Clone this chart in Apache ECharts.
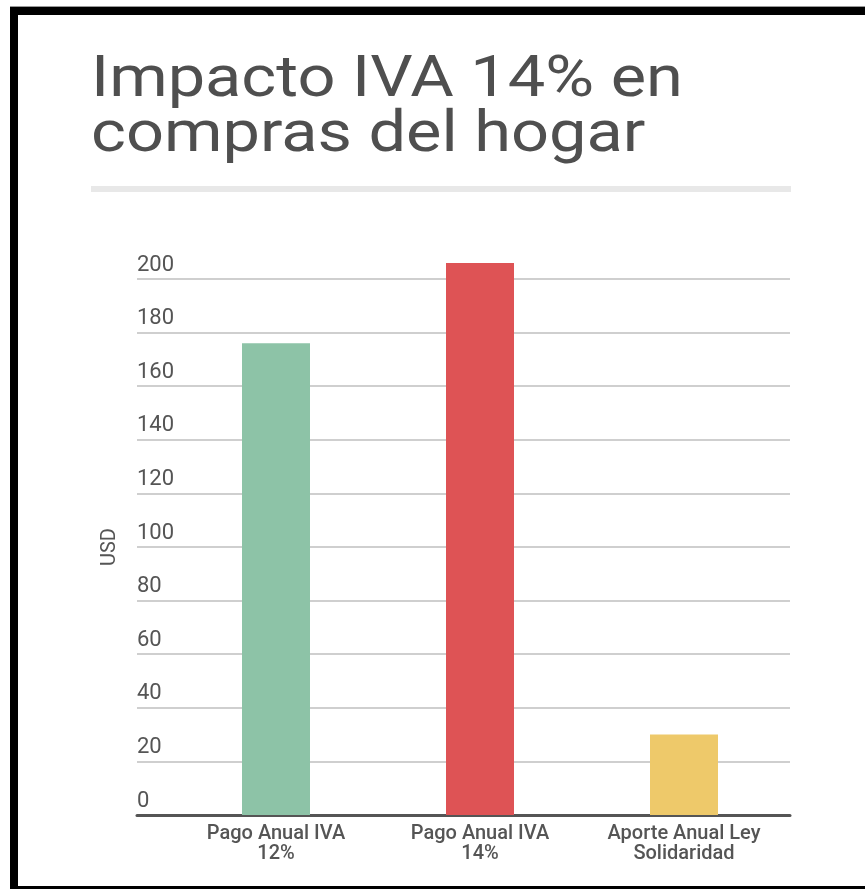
<!DOCTYPE html>
<html>
<head>
<meta charset="utf-8">
<script src="https://cdn.jsdelivr.net/npm/echarts@6/dist/echarts.min.js"></script>
<style>
html,body{margin:0;padding:0;background:#fff;}
#chart{width:865px;height:889px;}
</style>
</head>
<body>
<div id="chart"></div>
<script>
var titleText = 'Impacto IVA 14% en\ncompras del hogar';
var categories = ['Pago Anual IVA\n12%', 'Pago Anual IVA\n14%', 'Aporte Anual Ley\nSolidaridad'];
var values = [176, 206, 30];
var barColors = ['#8dc3a7', '#de5355', '#eec96a'];
var yMin = 0, yMax = 200, yStep = 20;
var yName = 'USD';

var chart = echarts.init(document.getElementById('chart'), null, {renderer: 'canvas'});
var font = 'Roboto';
var option = {
  animation: false,
  backgroundColor: '#fff',
  graphic: [
    {type: 'rect', shape: {x: 10, y: 6, width: 855, height: 1}, style: {fill: '#999'}},
    {type: 'rect', shape: {x: 10, y: 7, width: 855, height: 8}, style: {fill: '#000'}},
    {type: 'rect', shape: {x: 10, y: 7, width: 8, height: 882}, style: {fill: '#000'}},
    {type: 'rect', shape: {x: 10, y: 886, width: 855, height: 3}, style: {fill: '#000'}},
    {type: 'rect', shape: {x: 91, y: 186, width: 700, height: 6}, style: {fill: '#e8e8e8'}},
    {type: 'text', x: 91, y: 54, scaleX: 1.15,
      style: {text: titleText, font: '400 58px Roboto', fill: '#4f4f4f', lineHeight: 55}}
  ],
  grid: [
    {left: 137, right: 75, top: 279, bottom: 74},
    {left: 174, right: 79, top: 225.4, bottom: 74}
  ],
  xAxis: [
    {gridIndex: 0, type: 'value', min: 0, max: 1,
      axisLine: {show: true, lineStyle: {color: '#555', width: 3}},
      axisTick: {show: false}, axisLabel: {show: false}, splitLine: {show: false}},
    {gridIndex: 1, type: 'category', data: categories,
      axisLine: {show: false}, axisTick: {show: false},
      axisLabel: {interval: 0, hideOverlap: false, color: '#555', fontFamily: font, fontSize: 20,
        fontWeight: 500, lineHeight: 20, margin: 9}}
  ],
  yAxis: [
    {gridIndex: 0, type: 'value', min: yMin, max: yMax, interval: yStep,
      name: yName, nameLocation: 'middle', nameGap: 17,
      nameTextStyle: {color: '#555', fontFamily: font, fontSize: 20},
      axisLine: {show: false}, axisTick: {show: false},
      axisLabel: {inside: true, margin: 0, verticalAlign: 'bottom', padding: [0, 0, 3, 0],
        color: '#555', fontFamily: font, fontSize: 22},
      splitLine: {lineStyle: {color: '#cfcfcf', width: 2}}},
    {gridIndex: 1, type: 'value', min: yMin, max: yMax + yStep, interval: yStep, show: false,
      splitLine: {show: false}}
  ],
  series: [{
    type: 'bar', xAxisIndex: 1, yAxisIndex: 1, barWidth: 68,
    data: values.map(function (v, i) { return {value: v, itemStyle: {color: barColors[i]}}; })
  }]
};
chart.setOption(option);
</script>
</body>
</html>
